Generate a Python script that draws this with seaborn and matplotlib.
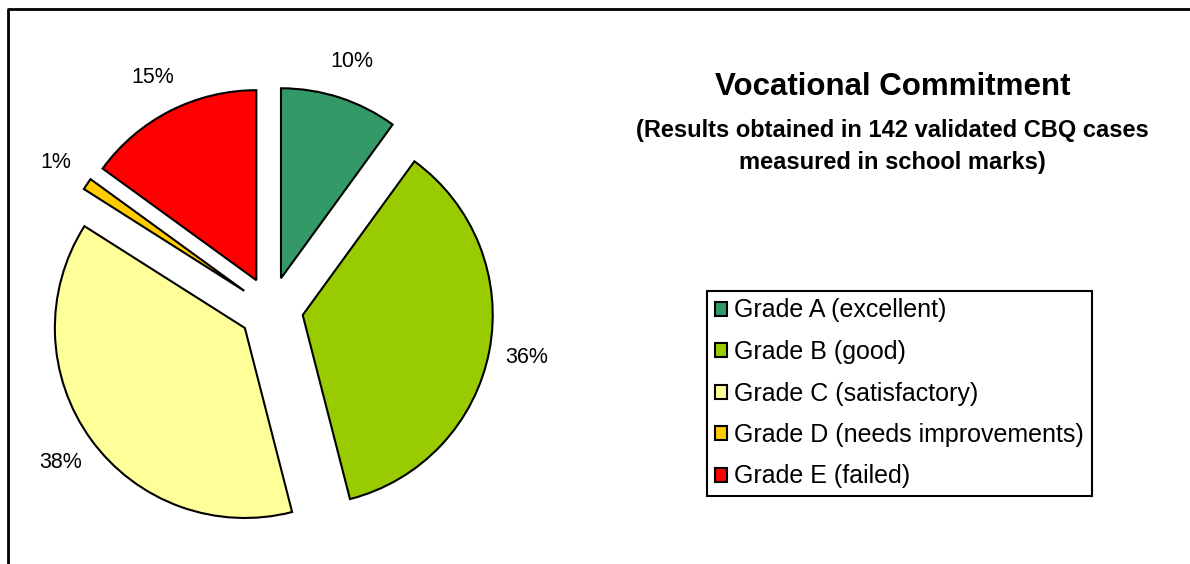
"""
Vocational Commitment pie chart (exploded slices, percent labels, side legend).
"""

import matplotlib
matplotlib.use("Agg")
import matplotlib.pyplot as plt
from matplotlib.lines import Line2D
import seaborn as sns

# --- Data ---
grades = [
    "Grade A (excellent)",
    "Grade B (good)",
    "Grade C (satisfactory)",
    "Grade D (needs improvements)",
    "Grade E (failed)",
]
shares = [10, 36, 38, 1, 15]
grade_colors = ["#339966", "#99CC00", "#FFFF99", "#FFCC00", "#FF0000"]

title = "Vocational Commitment"
subtitle_1 = "(Results obtained in 142 validated CBQ cases"
subtitle_2 = "measured in school marks)"

sns.set_theme(style="white")
plt.rcParams["font.family"] = ["Liberation Sans", "DejaVu Sans"]
plt.rcParams["text.color"] = "black"

W, H = 1190, 564
fig = plt.figure(figsize=(W / 100, H / 100), dpi=100)
fig.patch.set_facecolor("white")

# pie axes: centre at (271, 309) px, radius 190 px
cx, cy, r_px, half = 271, 309, 190, 250
ax = fig.add_axes([(cx - half) / W, (H - cy - half) / H, 2 * half / W, 2 * half / H])
wedges, _, autotexts = ax.pie(
    shares,
    colors=sns.color_palette(grade_colors),
    explode=[0.17] * len(shares),
    startangle=90,
    counterclock=False,
    autopct="%1.0f%%",
    pctdistance=1.2,
    wedgeprops=dict(edgecolor="black", linewidth=1.5),
    textprops=dict(fontsize=15.5, color="black"),
)
lim = half / r_px
ax.set_xlim(-lim, lim)
ax.set_ylim(-lim, lim)
ax.set_aspect("equal")
ax.axis("off")

# titles
fig.text(893 / W, 1 - 87 / H, title, ha="center", va="center",
         fontsize=22.5, fontweight="bold", color="black")
fig.text(892 / W, 1 - 131 / H, subtitle_1, ha="center", va="center",
         fontsize=17, fontweight="bold", color="black")
fig.text(892 / W, 1 - 162 / H, subtitle_2, ha="center", va="center",
         fontsize=17, fontweight="bold", color="black")

# legend
leg = fig.legend(
    wedges, grades,
    loc="upper left",
    bbox_to_anchor=(707 / W, 1 - 291 / H),
    fontsize=18,
    frameon=True,
    fancybox=False,
    framealpha=1,
    edgecolor="black",
    handlelength=0.5,
    handleheight=0.5,
    handletextpad=0.3,
    labelspacing=0.7,
    borderpad=0.3,
    borderaxespad=0,
)
leg.get_frame().set_linewidth(1.5)
for t in leg.get_texts():
    t.set_color("black")

# chart area border (left and top only visible)
fig.add_artist(Line2D([8 / W, 8 / W, 1.0], [0, 1 - 9 / H, 1 - 9 / H],
                      transform=fig.transFigure, color="black", linewidth=2))

fig.savefig("out.png", dpi=100)
plt.close(fig)
